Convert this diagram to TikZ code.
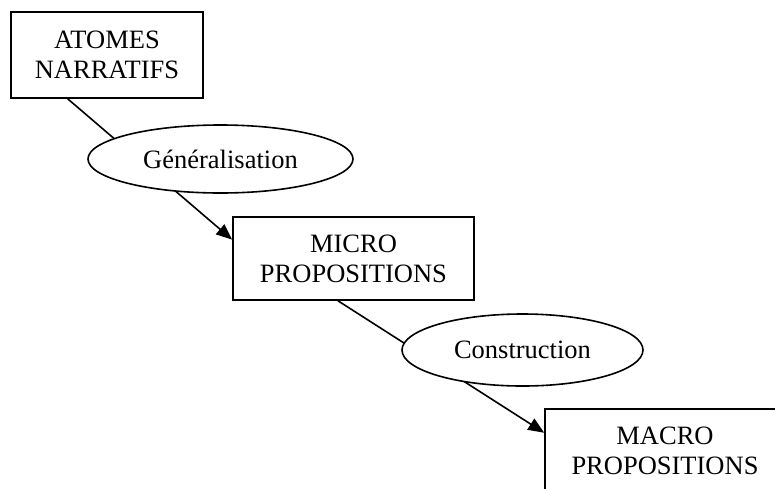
\documentclass[tikz,border=0pt]{standalone}
\usepackage{fontspec}
\setmainfont{Liberation Serif}
\usetikzlibrary{arrows.meta,shapes.geometric,calc}
\tikzset{
  boxnode/.style={draw, line width=1.6pt, rectangle, inner sep=0pt, align=center,
    font=\fontsize{26.5}{30}\selectfont},
  ovalnode/.style={draw, line width=1.6pt, ellipse, fill=white, inner sep=0pt,
    font=\fontsize{26.5}{30}\selectfont},
  link/.style={line width=1.6pt, -{Triangle[length=16pt,width=13pt]}}
}
\begin{document}
\begin{tikzpicture}[x=1pt,y=-1pt]
\useasboundingbox (0,0) rectangle (775,488);
\node[boxnode, minimum width=192pt, minimum height=86pt] (atomes) at (107,55) {ATOMES\\NARRATIFS};
\node[boxnode, minimum width=241pt, minimum height=83pt] (micro) at (353.5,258.5) {MICRO\\PROPOSITIONS};
\node[boxnode, minimum width=240pt, minimum height=83pt] (macro) at (665,450.5) {MACRO\\PROPOSITIONS};
\draw[link] ($(atomes.south west)!0.297!(atomes.south east)$) -- ($(micro.north west)!0.277!(micro.south west)$);
\draw[link] ($(micro.south west)!0.436!(micro.south east)$) -- ($(macro.north west)!0.29!(macro.south west)$);
\node[ovalnode, minimum width=265pt, minimum height=68pt] (gen) at (220.5,159) {Généralisation};
\node[ovalnode, minimum width=241pt, minimum height=72pt] (cons) at (522.5,350) {Construction};
\end{tikzpicture}
\end{document}
